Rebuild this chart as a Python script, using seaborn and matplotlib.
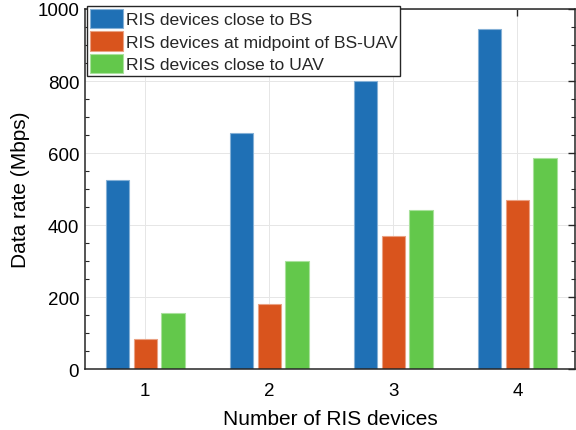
import numpy as np
import pandas as pd
import matplotlib
matplotlib.use("Agg")
import matplotlib.pyplot as plt
import matplotlib.colors as mcolors
from matplotlib.ticker import MultipleLocator
import seaborn as sns

# ---- data ----
ris_counts = ["1", "2", "3", "4"]
series_names = ["RIS devices close to BS",
                "RIS devices at midpoint of BS-UAV",
                "RIS devices close to UAV"]
close_to_bs = [525, 656, 800, 944]
midpoint = [83, 182, 371, 471]
close_to_uav = [156, 300, 442, 587]
colors = ["#1f70b5", "#d9541d", "#63c84b"]

rows = []
for name, vals in zip(series_names, [close_to_bs, midpoint, close_to_uav]):
    for c, v in zip(ris_counts, vals):
        rows.append({"RIS": c, "Series": name, "Rate": v})
df = pd.DataFrame(rows)

sns.set_theme(style="white")
plt.rcParams["font.family"] = ["Liberation Sans", "DejaVu Sans"]

fig = plt.figure(figsize=(5.76, 4.31), dpi=100)
ax = fig.add_axes([0.1484, 0.1408, 0.8507, 0.836])

sns.barplot(data=df, x="RIS", y="Rate", hue="Series", order=ris_counts,
            hue_order=series_names, palette=colors, width=0.67, gap=0.157,
            saturation=1, ax=ax, legend=True, errorbar=None)

for container, col in zip(ax.containers, colors):
    light = tuple(np.array(mcolors.to_rgb(col)) * 0.55 + 0.45)
    for p in container.patches:
        p.set_edgecolor(light)
        p.set_linewidth(0.8)

ax.set_xlim(-0.482, 3.469)
ax.set_ylim(0, 1000)
ax.yaxis.set_major_locator(MultipleLocator(200))
ax.yaxis.set_minor_locator(MultipleLocator(50))

ax.set_axisbelow(True)
ax.grid(True, which="major", color="#e6e6e6", linewidth=0.7)

for s in ax.spines.values():
    s.set_visible(True)
    s.set_color("#262626")
    s.set_linewidth(1.1)

ax.tick_params(axis="both", which="major", direction="in", length=5, width=1.0,
               top=True, right=True, labelsize=13.5, colors="#262626",
               labelcolor="black")
ax.tick_params(axis="y", which="major", pad=4.5)
ax.tick_params(axis="x", which="major", pad=9)
ax.tick_params(axis="y", which="minor", direction="in", length=3, width=0.8,
               left=True, right=True, colors="#262626")

ax.set_xlabel("Number of RIS devices", fontsize=15, color="black", labelpad=7.5)
ax.set_ylabel("Data rate (Mbps)", fontsize=15, color="black", labelpad=5)

handles = [c.patches[0] for c in ax.containers]
leg = ax.legend(handles, series_names, loc="upper left",
                bbox_to_anchor=(0.0035, 1.0075), borderaxespad=0,
                fontsize=12.6, frameon=True, fancybox=False, framealpha=1,
                edgecolor="#262626", borderpad=0.15, handlelength=1.92,
                handleheight=1.3, handletextpad=0.12, labelspacing=0.2)
leg.get_frame().set_linewidth(1.0)

fig.savefig("out.png", dpi=100)
